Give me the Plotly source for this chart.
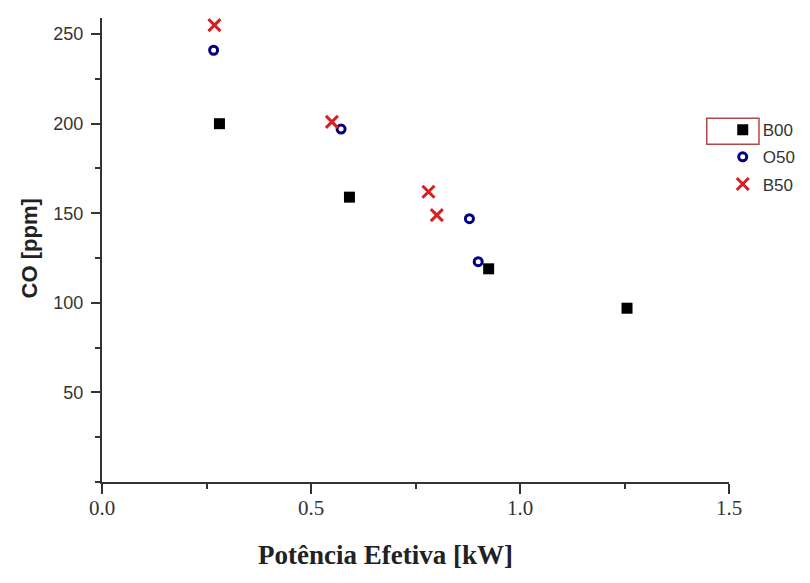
import plotly.graph_objects as go

# Data
b00_x = [0.281, 0.592, 0.925, 1.256]
b00_y = [200, 159, 119, 97]

o50_x = [0.267, 0.572, 0.879, 0.900]
o50_y = [241, 197, 147, 123]

b50_x = [0.269, 0.550, 0.781, 0.801]
b50_y = [255, 201, 162, 149]

x_ticks = [0.0, 0.5, 1.0, 1.5]
x_tick_labels = ["0.0", "0.5", "1.0", "1.5"]
y_ticks = [50, 100, 150, 200, 250]
y_tick_labels = ["50", "100", "150", "200", "250"]

fig = go.Figure()
fig.add_trace(go.Scatter(
    x=b00_x, y=b00_y, mode="markers", name="B00", legendgroup="a",
    marker=dict(symbol="square", size=11, color="#000000"),
))
fig.add_trace(go.Scatter(
    x=o50_x, y=o50_y, mode="markers", name="O50", legendgroup="b",
    marker=dict(symbol="circle-open", size=8, color="#00007f",
                line=dict(width=3, color="#00007f")),
))
fig.add_trace(go.Scatter(
    x=b50_x, y=b50_y, mode="markers", name="B50", legendgroup="c",
    marker=dict(symbol="x-thin-open", size=12, color="#d92020",
                line=dict(width=3, color="#d92020")),
))

axis_color = "#333333"
fig.update_layout(
    width=810, height=583,
    margin=dict(l=94, r=89, t=10, b=109, autoexpand=False),
    paper_bgcolor="white", plot_bgcolor="white",
    showlegend=True,
    legend=dict(
        x=0.990, y=0.797, xanchor="left", yanchor="top",
        font=dict(family="Liberation Sans, Arial", size=17, color="#333333"),
        bgcolor="rgba(0,0,0,0)", tracegroupgap=2, traceorder="grouped",
        itemwidth=30,
    ),
    xaxis=dict(
        range=[0, 1.5], showgrid=False, zeroline=False, automargin=False,
        showline=True, linecolor=axis_color, linewidth=2,
        ticks="outside", ticklen=10, tickwidth=1.5, tickcolor=axis_color,
        tickvals=x_ticks, ticktext=x_tick_labels,
        tickfont=dict(family="Liberation Serif, Times New Roman", size=21, color="#333333"),
        ticklabelstandoff=-4,
        minor=dict(ticks="outside", ticklen=5, tickwidth=1.5, tickcolor=axis_color, dtick=0.25, tick0=0),
    ),
    yaxis=dict(
        range=[0, 259], showgrid=False, zeroline=False, automargin=False,
        showline=True, linecolor=axis_color, linewidth=2,
        ticks="outside", ticklen=9, tickwidth=1.5, tickcolor=axis_color,
        tickvals=y_ticks, ticktext=y_tick_labels,
        tickfont=dict(family="Liberation Sans, Arial", size=18, color="#333333"),
        ticklabelstandoff=4,
        minor=dict(ticks="outside", ticklen=5, tickwidth=1.5, tickcolor=axis_color, dtick=25, tick0=0),
    ),
    annotations=[
        dict(text="<b>Potência Efetiva [kW]</b>", xref="paper", yref="paper",
             x=0.4516, y=-0.157, xanchor="center", yanchor="middle", showarrow=False,
             font=dict(family="Liberation Serif, Times New Roman", size=27, color="#222222")),
        dict(text="<b>CO [ppm]</b>", xref="paper", yref="paper",
             x=-0.116, y=0.504, xanchor="center", yanchor="middle", showarrow=False,
             textangle=-90,
             font=dict(family="Liberation Sans, Arial", size=22, color="#222222")),
    ],
    shapes=[
        dict(type="rect", xref="paper", yref="paper",
             x0=0.9645, x1=1.0478, y0=0.728, y1=0.784,
             line=dict(color="#b04848", width=1.5)),
    ],
)

fig.write_html("out.html")
